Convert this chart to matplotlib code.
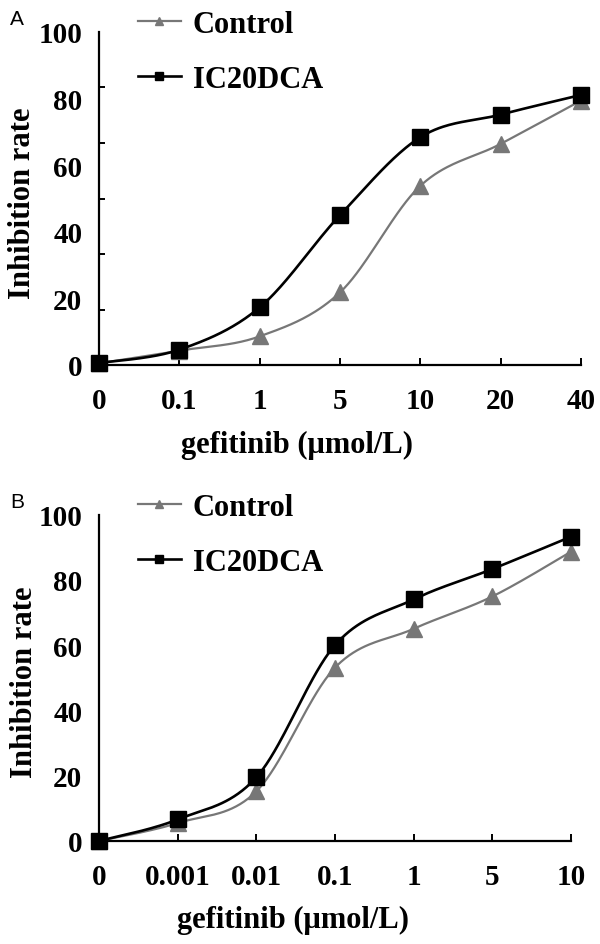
import numpy as np
import matplotlib
matplotlib.use("Agg")
import matplotlib.pyplot as plt
from matplotlib.lines import Line2D

# Panel A: gefitinib dose (umol/L) vs inhibition rate
DOSE_A = ["0", "0.1", "1", "5", "10", "20", "40"]
CONTROL_A = [0.5, 4.3, 8.6, 21.8, 53.8, 66.4, 79.4]
DCA_A = [0.6, 4.6, 17.3, 45.0, 68.4, 75.2, 81.1]

# Panel B
DOSE_B = ["0", "0.001", "0.01", "0.1", "1", "5", "10"]
CONTROL_B = [0.0, 5.5, 15.2, 53.1, 65.0, 74.9, 88.6]
DCA_B = [0.0, 6.6, 19.5, 60.0, 74.0, 83.3, 93.2]

YTICKS = [0, 20, 40, 60, 80, 100]
SERIES = ["Control", "IC20DCA"]

GRAY = "#777777"
SERIF = "Liberation Serif"


def smooth(x, y, n=40):
    """Excel-style smoothed line: cubic Bezier through the points."""
    pts = np.column_stack([x, y]).astype(float)
    pad = np.vstack([pts[0], pts, pts[-1]])
    t = np.linspace(0, 1, n)[:, None]
    out = []
    for i in range(len(pts) - 1):
        p0, p1, p2, p3 = pad[i], pad[i + 1], pad[i + 2], pad[i + 3]
        c1 = p1 + (p2 - p0) / 6
        c2 = p2 - (p3 - p1) / 6
        seg = (1 - t) ** 3 * p1 + 3 * (1 - t) ** 2 * t * c1 + 3 * (1 - t) * t ** 2 * c2 + t ** 3 * p2
        out.append(seg if i == 0 else seg[1:])
    return np.vstack(out)


def draw_panel(fig, ax, doses, ctrl, dca, n_marks, letter, top_px):
    x = np.arange(len(doses))
    styles = [(ctrl, GRAY, "^", 11, 1.6), (dca, "black", "s", 12, 1.9)]
    for vals, color, marker, ms, lw in styles:
        c = smooth(x, vals)
        ax.plot(c[:, 0], c[:, 1], color=color, lw=lw, clip_on=False, zorder=3)
        ax.plot(x, vals, ls="none", marker=marker, ms=ms, color=color,
                mec=color, clip_on=False, zorder=4)

    ax.set_xlim(0, len(doses) - 1)
    ax.set_ylim(0, 100)
    for s in ("top", "right"):
        ax.spines[s].set_visible(False)
    for s in ("left", "bottom"):
        ax.spines[s].set_linewidth(1.6)

    ax.set_xticks(x)
    ax.set_xticklabels(doses)
    ax.tick_params(axis="x", direction="in", length=5, width=1.4, pad=16)
    # labels 0..100, tick marks drawn separately (panel A has 6 intervals)
    ax.set_yticks(YTICKS)
    ax.set_yticklabels([str(v) for v in YTICKS])
    ax.set_yticks(np.linspace(0, 100, n_marks + 1), minor=True)
    ax.tick_params(axis="y", which="major", length=0, pad=12)
    ax.tick_params(axis="y", which="minor", direction="in", length=4, width=1.4)
    for lab in ax.get_xticklabels() + ax.get_yticklabels():
        lab.set_fontfamily(SERIF)
        lab.set_fontweight("bold")
        lab.set_fontsize(21)

    ax.set_ylabel("Inhibition rate", fontfamily=SERIF, fontweight="bold", fontsize=22)
    ax.yaxis.set_label_coords(-0.128, 0.49)
    ax.set_xlabel("gefitinib (\u03bcmol/L)", fontfamily=SERIF, fontweight="bold", fontsize=22)
    ax.xaxis.set_label_coords(0.41, -0.195)

    handles = [Line2D([], [], color=GRAY, lw=1.6, marker="^", ms=6),
               Line2D([], [], color="black", lw=1.9, marker="s", ms=6)]
    ax.legend(handles, SERIES, loc="upper left", frameon=False,
              bbox_to_anchor=(138 / 600, 1 - top_px / 945),
              bbox_transform=fig.transFigure,
              borderaxespad=0, borderpad=0, handlelength=1.4, handletextpad=0.4,
              labelspacing=0.85, prop={"family": SERIF, "weight": "bold", "size": 22})

    fig.text(0.028, 1 - (top_px - 1) / 945, letter, fontfamily="Liberation Sans",
             fontsize=15, ha="center", va="top")


fig = plt.figure(figsize=(6, 9.45), dpi=100)
ax_a = fig.add_axes([99 / 600, 1 - 366 / 945, 482 / 600, 333 / 945])
ax_b = fig.add_axes([99 / 600, 1 - 842 / 945, 472 / 600, 326.5 / 945])

draw_panel(fig, ax_a, DOSE_A, CONTROL_A, DCA_A, 6, "A", 11)
draw_panel(fig, ax_b, DOSE_B, CONTROL_B, DCA_B, 5, "B", 494)

fig.savefig("out.png", dpi=100)
